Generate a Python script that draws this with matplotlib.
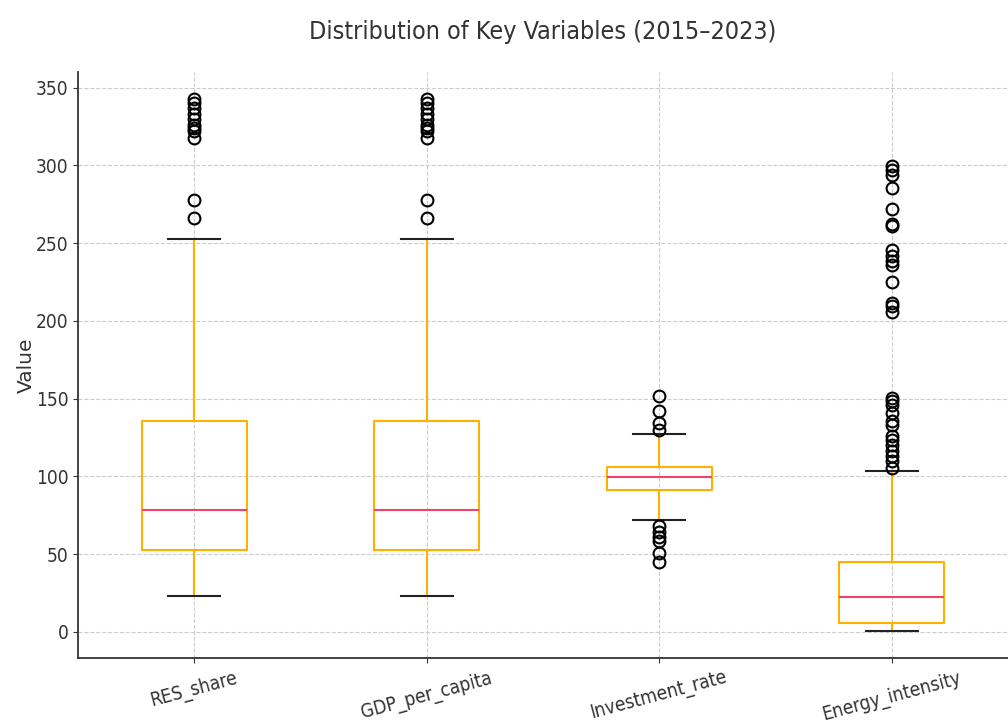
import matplotlib
matplotlib.use("Agg")
import matplotlib.pyplot as plt

# summary statistics for each variable
variables = ["RES_share", "GDP_per_capita", "Investment_rate", "Energy_intensity"]
q1 = [52.8, 52.8, 91.4, 5.8]
medians = [78.5, 78.5, 99.7, 22.5]
q3 = [135.8, 135.8, 106.2, 45.0]
whisker_low = [23.2, 23.2, 72.0, 0.5]
whisker_high = [252.9, 252.9, 127.4, 103.6]

res_outliers = [266.4, 278.0, 317.7, 322.0, 324.0, 326.0, 329.5, 333.0, 337.0, 340.2, 342.4]
gdp_outliers = [266.4, 278.0, 317.7, 322.0, 324.0, 326.0, 329.5, 333.0, 337.0, 340.2, 342.4]
inv_outliers = [44.6, 50.6, 58.1, 61.3, 64.5, 67.8, 130.0, 134.3, 142.2, 151.4]
energy_outliers = [105.3, 109.6, 112.8, 116.0, 120.3, 123.5, 125.7, 133.0, 135.3, 140.7,
                   146.0, 148.2, 150.4, 206.0, 209.3, 211.5, 225.0, 236.2, 238.3, 241.5,
                   245.8, 261.0, 262.5, 271.6, 285.5, 294.0, 297.3, 299.4]
outliers = [res_outliers, gdp_outliers, inv_outliers, energy_outliers]

plt.rcParams["font.family"] = ["DejaVu Sans"]
plt.rcParams["font.stretch"] = "condensed"

stats = []
for i, name in enumerate(variables):
    stats.append({
        "label": name,
        "q1": q1[i],
        "med": medians[i],
        "q3": q3[i],
        "whislo": whisker_low[i],
        "whishi": whisker_high[i],
        "fliers": outliers[i],
    })

fig = plt.figure(figsize=(10.08, 7.26), dpi=100)
ax = fig.add_axes([0.0774, 0.0937, 0.9226, 0.8071])

ax.bxp(stats, widths=0.45, showfliers=True,
       boxprops=dict(color="#FFB000", linewidth=1.5),
       whiskerprops=dict(color="#FFB000", linewidth=1.5),
       capprops=dict(color="#222222", linewidth=1.5),
       medianprops=dict(color="#F0446A", linewidth=1.5),
       flierprops=dict(marker="o", markerfacecolor="none", markeredgecolor="black",
                       markersize=8.5, markeredgewidth=1.5))

ax.set_xlim(0.5, 4.5)
ax.set_ylim(-16.8, 360)
ax.set_yticks(range(0, 351, 50))
ax.grid(True, linestyle="--", color="#cccccc", linewidth=0.8)
ax.set_axisbelow(True)
for side in ["top", "right"]:
    ax.spines[side].set_visible(False)
ax.spines["left"].set_color("#333333")
ax.spines["bottom"].set_color("#333333")
ax.spines["left"].set_linewidth(1.3)
ax.spines["bottom"].set_linewidth(1.3)

ax.tick_params(axis="both", labelsize=13.7, colors="#333333")
ax.tick_params(axis="x", pad=4)
plt.setp(ax.get_xticklabels(), rotation=15)
ax.set_ylabel("Value", fontsize=14.5, color="#333333", fontstretch="normal", labelpad=0)
ax.set_title("Distribution of Key Variables (2015\u20132023)", fontsize=18, color="#333333", pad=24)

fig.savefig("out.png", dpi=100)
